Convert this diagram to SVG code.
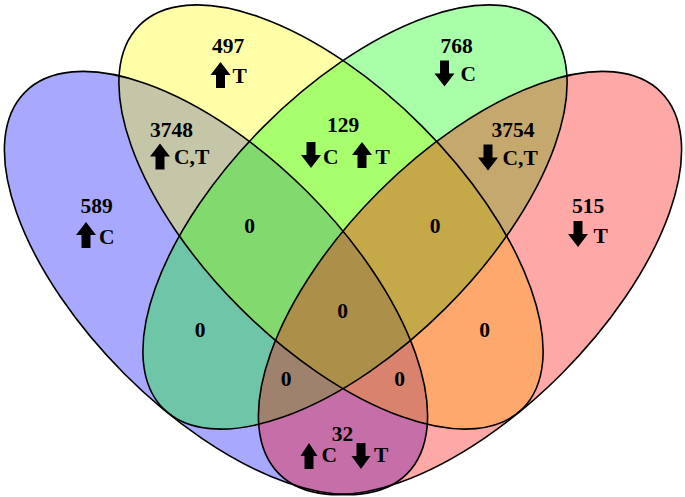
<svg xmlns="http://www.w3.org/2000/svg" width="685" height="497" viewBox="0 0 685 497">
<style>
.set{fill-opacity:0.34;stroke:none}
.outline{fill:none;stroke:#000;stroke-width:1.6}
.num{font-family:"Liberation Serif","Times New Roman",serif;font-weight:bold;font-size:21.5px;fill:#000;text-anchor:middle}
.lbl{font-family:"Liberation Serif","Times New Roman",serif;font-weight:bold;font-size:21.5px;fill:#000}
.arr{fill:#000}
</style>
<defs>
<ellipse id="eA" cx="216" cy="283" rx="270" ry="129" transform="rotate(45 216 283)"/>
<ellipse id="eB" cx="331" cy="217" rx="271" ry="128.6" transform="rotate(45 331 217)"/>
<ellipse id="eC" cx="355" cy="217" rx="271" ry="128.6" transform="rotate(-45 355 217)"/>
<ellipse id="eD" cx="470" cy="283" rx="270" ry="129" transform="rotate(-45 470 283)"/>
<path id="up" d="M0,0 L10,13 L4.5,13 L4.5,26 L-4.5,26 L-4.5,13 L-10,13 Z"/>
<path id="down" d="M0,26 L10,13 L4.5,13 L4.5,0 L-4.5,0 L-4.5,13 L-10,13 Z"/>
<path id="upS" d="M0,0 L8.5,13 L4.5,13 L4.5,26 L-4.5,26 L-4.5,13 L-8.5,13 Z"/>
<path id="downS" d="M0,26 L9.5,13 L4.5,13 L4.5,0 L-4.5,0 L-4.5,13 L-9.5,13 Z"/>
</defs>
<rect width="685" height="497" fill="#fff"/>
<g id="setA"><use href="#eA" class="set" fill="#0000ff"/></g>
<g id="setB"><use href="#eB" class="set" fill="#ffff00"/></g>
<g id="setC"><use href="#eC" class="set" fill="#00ff00"/></g>
<g id="setD"><use href="#eD" class="set" fill="#ff0000"/></g>
<g id="outlines" class="outline">
<use href="#eA"/><use href="#eB"/><use href="#eC"/><use href="#eD"/>
</g>
<g id="r589"><text class="num" x="96.5" y="213">589</text><use href="#up" class="arr" x="86" y="222"/><text class="lbl" x="99" y="244">C</text></g>
<g id="r497"><text class="num" x="228" y="53">497</text><use href="#up" class="arr" x="220.5" y="62"/><text class="lbl" x="232.5" y="83">T</text></g>
<g id="r768"><text class="num" x="456.5" y="53">768</text><use href="#down" class="arr" x="444.5" y="60.5"/><text class="lbl" x="460.5" y="81">C</text></g>
<g id="r515"><text class="num" x="588" y="213">515</text><use href="#down" class="arr" x="578" y="221"/><text class="lbl" x="593.5" y="243">T</text></g>
<g id="r3748"><text class="num" x="171.5" y="137">3748</text><use href="#up" class="arr" x="160" y="143.5"/><text class="lbl" x="174" y="163.5">C,T</text></g>
<g id="r129"><text class="num" x="343" y="132">129</text><use href="#down" class="arr" x="311" y="142"/><text class="lbl" x="323" y="163.5">C</text><use href="#up" class="arr" x="362" y="142"/><text class="lbl" x="375.5" y="163.5">T</text></g>
<g id="r3754"><text class="num" x="513" y="137">3754</text><use href="#down" class="arr" x="488" y="144.5"/><text class="lbl" x="502.5" y="164.5">C,T</text></g>
<g id="r32"><text class="num" x="342.5" y="440.5">32</text><use href="#upS" class="arr" x="309" y="443"/><text class="lbl" x="321.5" y="462">C</text><use href="#downS" class="arr" x="361" y="443"/><text class="lbl" x="374" y="462">T</text></g>
<g id="zeros">
<text class="num" x="249.5" y="232.5">0</text>
<text class="num" x="435" y="232.5">0</text>
<text class="num" x="342.5" y="317.5">0</text>
<text class="num" x="200" y="337">0</text>
<text class="num" x="484.5" y="337">0</text>
<text class="num" x="286" y="386">0</text>
<text class="num" x="399.5" y="386">0</text>
</g>
</svg>
